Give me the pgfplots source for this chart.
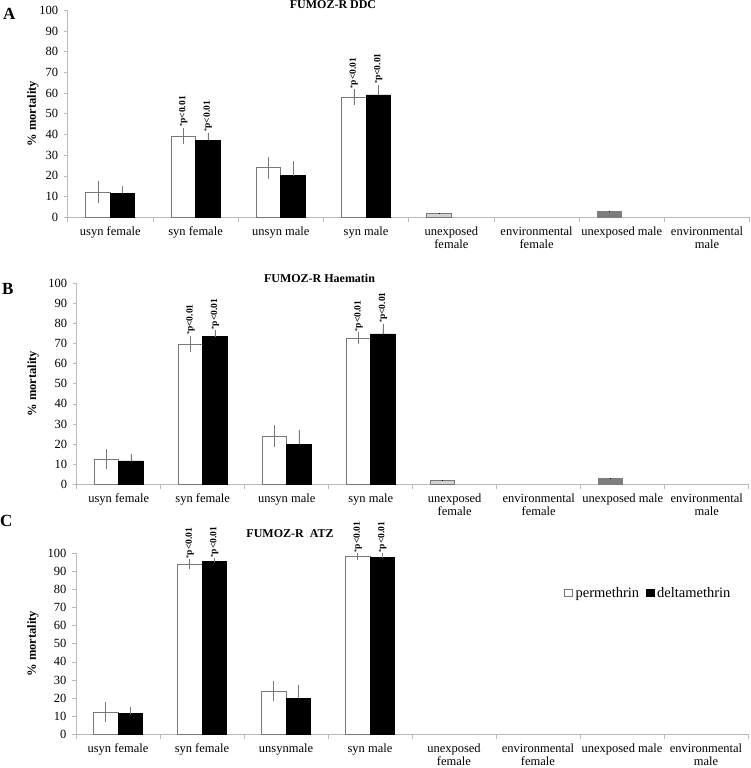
\documentclass[border=0pt]{standalone}
\usepackage{pgfplots}
\pgfplotsset{compat=1.18}
\usepackage{fontspec}
\setmainfont{Liberation Serif}
\definecolor{axgray}{RGB}{185,185,185}
\definecolor{errgray}{RGB}{120,120,120}
\definecolor{lightbar}{RGB}{210,210,210}
\definecolor{darkbar}{RGB}{125,125,125}
\newcommand{\fs}[2]{\fontsize{#1}{#2}\selectfont}
\newcommand{\pann}[3]{\node[rotate=90, anchor=west, font=\fs{9.5bp}{10bp}\bfseries, inner sep=1bp] at ([xshift=#1]axis cs:#2,#3) {\raisebox{0.35ex}{\fs{6bp}{7bp}*}p<0.01};}
\pgfplotsset{
  panel/.style={
    scale only axis, clip=false,
    ybar=0pt, bar width=24.5bp,
    ymin=0, ymax=100, xmin=-0.5, xmax=7.5,
    ytick={0,10,...,100},
    xtick={0,...,7},
    minor xtick={-0.5,0.5,...,7.5},
    axis x line*=bottom, axis y line*=left,
    axis line style={axgray, line width=0.7bp},
    tick align=outside,
    major tick length=4bp, minor tick length=5bp,
    major x tick style={draw=none},
    minor x tick style={axgray, line width=0.7bp},
    ytick style={axgray, line width=0.7bp},
    /pgf/number format/assume math mode=true,
    yticklabel style={font=\fs{12.5bp}{14bp}, xshift=-2bp},
    xticklabel style={font=\fs{12.5bp}{13.5bp}, align=center, yshift=-2bp},
    ylabel={\% mortality},
    every axis y label/.style={at={(axis description cs:#1,0.5)}, rotate=90, anchor=center, font=\fs{12.5bp}{14bp}\bfseries},
  },
  eb/.style={error bars/y dir=#1, error bars/y explicit, error bars/error mark=none},
  perm/.style={bar shift=-12.25bp, draw=errgray, line width=0.7bp, fill=white,
    eb=both, error bars/error bar style={errgray, line width=0.6bp}},
  delt/.style={bar shift=12.25bp, draw=black, line width=0.7bp, fill=black,
    eb=plus, error bars/error bar style={errgray, line width=0.6bp}},
  unexf/.style={bar shift=-12.25bp, draw=errgray, line width=0.7bp, fill=lightbar,
    eb=both, error bars/error bar style={black, line width=0.6bp}},
  unexm/.style={bar shift=-12.25bp, draw=darkbar, line width=0.7bp, fill=darkbar,
    eb=both, error bars/error bar style={black, line width=0.6bp}},
}
\begin{document}
\begin{tikzpicture}
\useasboundingbox (0,0) rectangle (751bp,768bp);
% Titles and panel letters
\node[anchor=base, font=\fs{12bp}{14bp}\bfseries, inner sep=0] at (333bp,759bp) {FUMOZ-R DDC};
\node[anchor=base, font=\fs{12bp}{14bp}\bfseries, inner sep=0] at (319.5bp,485bp) {FUMOZ-R Haematin};
\node[anchor=base, font=\fs{12bp}{14bp}\bfseries, inner sep=0] at (290bp,230bp) {FUMOZ-R\ \ ATZ};
\node[anchor=base west, font=\fs{17bp}{19bp}\bfseries, inner sep=0] at (3bp,748bp) {A};
\node[anchor=base west, font=\fs{17bp}{19bp}\bfseries, inner sep=0] at (2bp,473bp) {B};
\node[anchor=base west, font=\fs{17bp}{19bp}\bfseries, inner sep=0] at (0bp,241bp) {C};

% Panel A
\begin{axis}[panel=-0.051, at={(67.7bp,550.7bp)}, anchor=south west, width=682bp, height=207bp,
  xticklabels={usyn female, syn female, unsyn male, syn male, {unexposed\\female}, {environmental\\female}, unexposed male, {environmental\\male}}]
\addplot[perm] coordinates {(0,12.1) +- (0,5.4) (1,39.3) +- (0,4.0) (2,24.0) +- (0,5.3) (3,58.0) +- (0,3.8)};
\addplot[delt] coordinates {(0,11.6) +- (0,3.6) (1,37.2) +- (0,3.7) (2,20.1) +- (0,7.0) (3,59.1) +- (0,4.8)};
\addplot[unexf] coordinates {(4,1.9) +- (0,0.2)};
\addplot[unexm] coordinates {(6,3.0) +- (0,0.2)};
\pann{-12.25bp}{1}{43.3}
\pann{12.25bp}{1}{40.9}
\pann{-12.25bp}{3}{61.8}
\pann{12.25bp}{3}{63.9}
\end{axis}

% Panel B
\begin{axis}[panel=-0.065, at={(76.7bp,283.7bp)}, anchor=south west, width=672bp, height=201bp,
  xticklabels={usyn female, syn female, unsyn male, syn male, {unexposed\\female}, {environmental\\female}, unexposed male, {environmental\\male}}]
\addplot[perm] coordinates {(0,12.4) +- (0,5.0) (1,69.7) +- (0,4.0) (2,23.9) +- (0,5.5) (3,72.6) +- (0,3.0)};
\addplot[delt] coordinates {(0,11.6) +- (0,3.5) (1,73.4) +- (0,3.2) (2,20.0) +- (0,7.0) (3,74.8) +- (0,5.0)};
\addplot[unexf] coordinates {(4,2.1) +- (0,0.2)};
\addplot[unexm] coordinates {(6,3.0) +- (0,0.2)};
\pann{-12.25bp}{1}{73.8}
\pann{12.25bp}{1}{76.6}
\pann{-12.25bp}{3}{75.6}
\pann{12.25bp}{3}{79.8}
\end{axis}

% Panel C
\begin{axis}[panel=-0.064, at={(76bp,33.7bp)}, anchor=south west, width=672bp, height=181bp,
  xticklabels={usyn female, syn female, unsynmale, syn male, {unexposed\\female}, {environmental\\female}, unexposed male, {environmental\\male}},
  legend style={draw=none, fill=none, at={(axis description cs:0.722,0.782)}, anchor=west, legend columns=2,
    font=\fs{14.5bp}{16bp}, /tikz/every odd column/.append style={column sep=1bp}, /tikz/every even column/.append style={column sep=5bp}}]
\addplot[forget plot, perm] coordinates {(0,12.2) +- (0,5.5) (1,93.9) +- (0,2.7) (2,23.8) +- (0,5.6) (3,98.1) +- (0,1.9)};
\addplot[forget plot, delt] coordinates {(0,11.4) +- (0,3.9) (1,95.4) +- (0,1.8) (2,20.0) +- (0,7.2) (3,97.6) +- (0,2.4)};
\addlegendimage{legend image code/.code={\draw[draw=errgray, fill=white, line width=0.6bp] (0bp,-3.8bp) rectangle (7.6bp,3.8bp);}}
\addlegendentry{permethrin}
\addlegendimage{legend image code/.code={\draw[draw=black, fill=black] (0bp,-3.8bp) rectangle (7.6bp,3.8bp);}}
\addlegendentry{deltamethrin}
\pann{-12.25bp}{1}{96.6}
\pann{12.25bp}{1}{97.2}
\pann{-12.25bp}{3}{100.0}
\pann{12.25bp}{3}{100.0}
\end{axis}
\end{tikzpicture}
\end{document}
